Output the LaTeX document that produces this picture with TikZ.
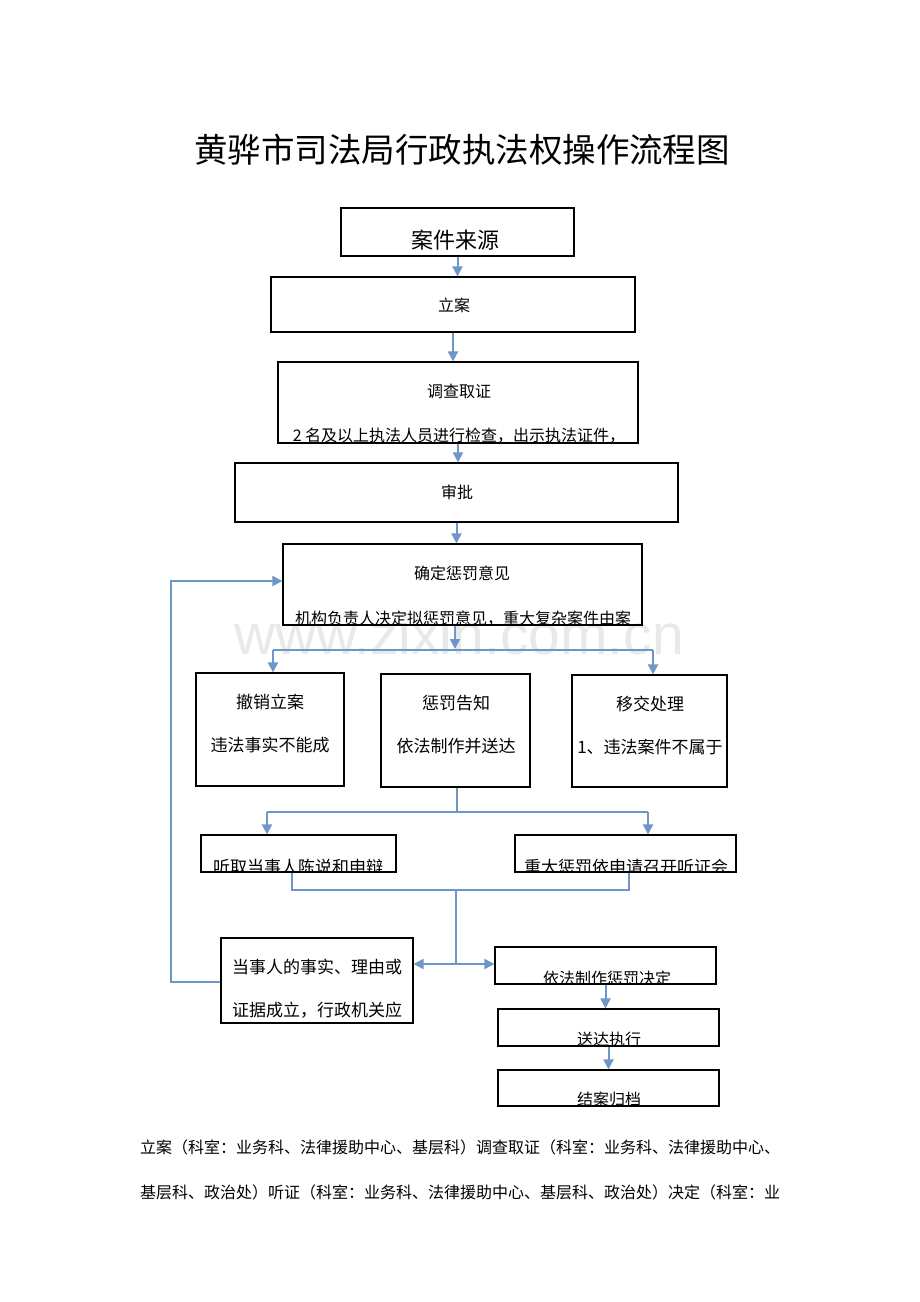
\documentclass[tikz,border=0pt]{standalone}
\usepackage{fontspec}
\usetikzlibrary{arrows.meta}
\newfontfamily\cjk{Noto Sans CJK SC}
\newfontfamily\wmfont{Liberation Sans}
\definecolor{ln}{HTML}{6D97C6}
\tikzset{
  box/.style={draw=black, line width=1.2pt, inner sep=0pt, fill=none},
  txt/.style={inner sep=0pt, font=\cjk\fontsize{16}{16}\selectfont},
  txtb/.style={inner sep=0pt, font=\cjk\fontsize{17}{17}\selectfont},
  conn/.style={draw=ln, line width=2pt},
  arr/.style={conn, -{Triangle[length=10pt,width=10pt]}},
  darr/.style={conn, {Triangle[length=10pt,width=10pt]}-{Triangle[length=10pt,width=10pt]}}
}
\begin{document}
\begin{tikzpicture}[x=1pt,y=-1pt]
\useasboundingbox[fill=white] (0,0) rectangle (920,1302);
% watermark
\node[inner sep=0pt, text=gray!17, font=\wmfont\fontsize{57}{57}\selectfont] (wm) at (459,634) {www.zixin.com.cn};
% title
\node[inner sep=0pt, font=\cjk\fontsize{33.5}{34}\selectfont] (title) at (462,150) {黄骅市司法局行政执法权操作流程图};
% boxes
\node[box, minimum width=233, minimum height=48] (b1) at (457.5,232) {};
\node[box, minimum width=364, minimum height=55] (b2) at (453,304.5) {};
\node[box, minimum width=360, minimum height=81] (b3) at (458,402.5) {};
\node[box, minimum width=443, minimum height=59] (b4) at (456.5,492.5) {};
\node[box, minimum width=359, minimum height=81] (b5) at (462.5,584.5) {};
\node[box, minimum width=148, minimum height=113] (b6a) at (270,729.5) {};
\node[box, minimum width=149, minimum height=113] (b6b) at (455.5,730.5) {};
\node[box, minimum width=155, minimum height=112] (b6c) at (649.5,731) {};
\node[box, minimum width=195, minimum height=37] (b7a) at (298.5,853.5) {};
\node[box, minimum width=221, minimum height=37] (b7b) at (625.5,853.5) {};
\node[box, minimum width=192, minimum height=85] (b8a) at (317,980.5) {};
\node[box, minimum width=221, minimum height=37] (b8b) at (605.5,965.5) {};
\node[box, minimum width=221, minimum height=37] (b9) at (608.5,1027.5) {};
\node[box, minimum width=221, minimum height=36] (b10) at (608.5,1088) {};
% texts
\node[inner sep=0pt, font=\cjk\fontsize{22}{22}\selectfont] (t1) at (455,240) {案件来源};
\node[txt] (t2) at (454,305) {立案};
\node[txt] (t3a) at (459,391) {调查取证};
\begin{scope}\clip (b3.south west) rectangle (b3.north east);
\node[txt] (t3b) at (459,436) {2 名及以上执法人员进行检查，出示执法证件，};
\end{scope}
\node[txt] (t4) at (457,492) {审批};
\node[txt] (t5a) at (462,573) {确定惩罚意见};
\begin{scope}\clip (b5.south west) rectangle (b5.north east);
\node[txt] (t5b) at (463,619) {机构负责人决定拟惩罚意见，重大复杂案件由案};
\end{scope}
\node[txtb] (t6a1) at (270,702) {撤销立案};
\node[txtb] (t6a2) at (270,745) {违法事实不能成};
\node[txtb] (t6b1) at (456,703) {惩罚告知};
\node[txtb] (t6b2) at (456,746) {依法制作并送达};
\node[txtb] (t6c1) at (650,704) {移交处理};
\node[txtb] (t6c2) at (650,747) {1、违法案件不属于};
\begin{scope}\clip (b7a.south west) rectangle (b7a.north east);
\node[txtb] (t7a) at (298,867) {听取当事人陈说和申辩};
\end{scope}
\begin{scope}\clip (b7b.south west) rectangle (b7b.north east);
\node[txtb] (t7b) at (626,867) {重大惩罚依申请召开听证会};
\end{scope}
\node[txtb] (t8a1) at (317,967) {当事人的事实、理由或};
\node[txtb] (t8a2) at (317,1010) {证据成立，行政机关应};
\begin{scope}\clip (b8b.south west) rectangle (b8b.north east);
\node[txt] (t8b) at (607,978) {依法制作惩罚决定};
\end{scope}
\begin{scope}\clip (b9.south west) rectangle (b9.north east);
\node[txt] (t9) at (609,1039) {送达执行};
\end{scope}
\begin{scope}\clip (b10.south west) rectangle (b10.north east);
\node[txt] (t10) at (609,1099) {结案归档};
\end{scope}
% footer
\node[txt, anchor=west] (f1) at (140,1147) {立案（科室：业务科、法律援助中心、基层科）调查取证（科室：业务科、法律援助中心、};
\node[txt, anchor=west] (f2) at (140,1192) {基层科、政治处）听证（科室：业务科、法律援助中心、基层科、政治处）决定（科室：业};
% connectors
\draw[arr] (b1.south) -- (b1.south |- b2.north);
\draw[arr] (b2.south) -- (b2.south |- b3.north);
\draw[arr] (b3.south) -- (b3.south |- b4.north);
\draw[arr] (b4.south) -- (b4.south |- b5.north);
\coordinate (s0) at (455,649);
\coordinate (sL) at (273,650);
\coordinate (sR) at (653,650);
\draw[arr] (b5.south -| s0) -- (s0);
\draw[conn] (sL) -- (sR);
\draw[arr] (sL) -- (sL |- b6a.north);
\draw[arr] (sR) -- (sR |- b6c.north);
\coordinate (m1) at (457,812);
\coordinate (mL) at (267,812);
\coordinate (mR) at (648,812);
\draw[conn] (b6b.south -| m1) -- (m1);
\draw[conn] (mL) -- (mR);
\draw[arr] (mL) -- (mL |- b7a.north);
\draw[arr] (mR) -- (mR |- b7b.north);
\coordinate (j1) at (292,890);
\coordinate (j2) at (629,890);
\coordinate (j3) at (456,890);
\coordinate (j4) at (456,964);
\draw[conn] (b7a.south -| j1) -- (j1) -- (j2) -- (b7b.south -| j2);
\draw[conn] (j3) -- (j4);
\draw[darr] (j4 -| b8a.east) -- (j4 -| b8b.west);
\coordinate (l1) at (171,982);
\coordinate (l2) at (171,581);
\draw[arr] (b8a.west |- l1) -- (l1) -- (l2) -- (l2 -| b5.west);
\draw[arr] (b8b.south) -- (b8b.south |- b9.north);
\draw[arr] (b9.south) -- (b9.south |- b10.north);
\end{tikzpicture}
\end{document}
